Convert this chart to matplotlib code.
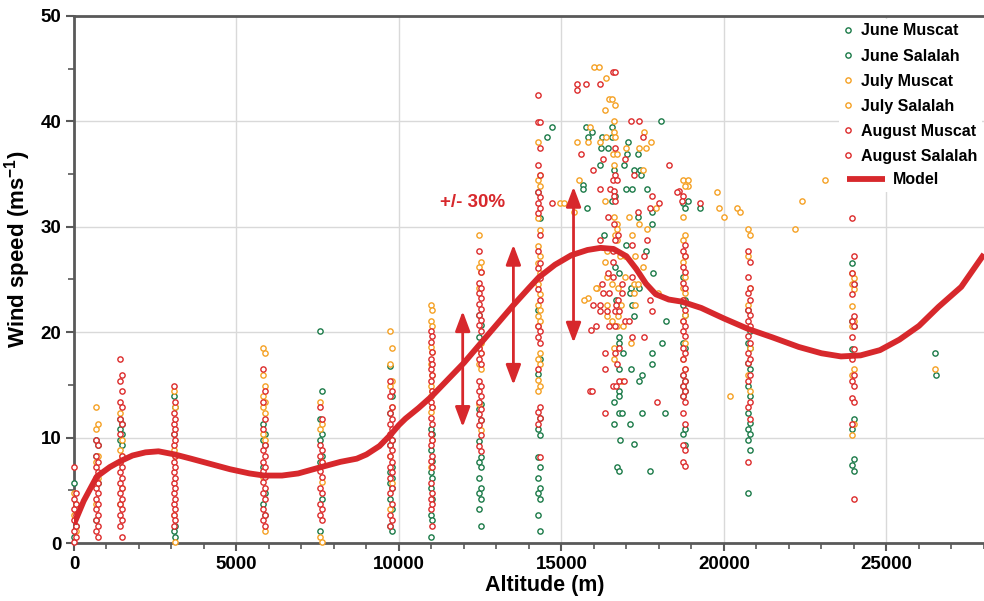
import matplotlib
matplotlib.use('Agg')
import matplotlib.pyplot as plt
from matplotlib.lines import Line2D
from matplotlib.ticker import MultipleLocator

plt.rcParams['font.family'] = ['Liberation Sans', 'DejaVu Sans']
plt.rcParams['font.weight'] = 'bold'
plt.rcParams['mathtext.fontset'] = 'custom'
plt.rcParams['mathtext.rm'] = 'Liberation Sans:bold'
plt.rcParams['mathtext.it'] = 'Liberation Sans:bold'
plt.rcParams['mathtext.bf'] = 'Liberation Sans:bold'

# sounding altitudes (m) of the standard levels at each station
muscat_alt = [0, 670, 1420, 3080, 5830, 7580, 9730, 10980, 12470, 14270, 18730, 20730, 23930, 26490]
salalah_alt = [50, 730, 1480, 3120, 5870, 7620, 9770, 11020, 12530, 14330, 18790, 20790, 23990, 26530]

# wind speed (m/s) per level, same order as the altitude lists
june_muscat = [
    [5.7, 0.6], [9.8, 8.3, 2.2], [11.8, 10.8, 9.8], [13.9, 10.3, 1.1],
    [11.3, 9.8, 7.2, 3.7], [20.1, 11.8, 9.8, 7.7, 1.1],
    [16.8, 12.3, 9.3, 6.7, 5.7, 4.2, 1.6], [10.8, 8.8, 6.7, 5.2, 2.7, 0.6],
    [21.6, 19.5, 12.7, 9.7, 7.7, 6.2, 4.7, 3.2],
    [33.3, 22.1, 16.0, 10.8, 8.2, 6.2, 4.7, 2.7],
    [32.3, 25.2, 22.6, 19.0, 15.9, 14.9, 13.9, 10.3],
    [22.1, 19.0, 17.1, 14.9, 12.3, 10.8, 9.8, 4.7],
    [26.6, 21.1, 18.4, 10.8, 7.4], [18.0]]
june_salalah = [
    [1.6], [9.3, 5.7], [11.3, 10.3, 9.3], [12.9, 1.6, 0.6],
    [10.3, 9.3, 4.7, 2.7], [14.4, 10.3, 8.3, 4.2],
    [13.9, 9.8, 7.2, 6.2, 5.2, 3.2, 1.1], [10.3, 7.8, 6.2, 4.2, 2.2],
    [20.7, 13.2, 11.7, 8.2, 7.2, 5.2, 4.2, 1.6],
    [30.8, 17.5, 11.9, 10.2, 7.2, 5.2, 4.2, 1.1],
    [31.8, 23.1, 21.6, 18.5, 15.4, 14.4, 10.8, 9.3],
    [20.1, 18.5, 16.5, 13.9, 11.4, 10.3, 8.8],
    [24.6, 20.6, 11.8, 8.0, 6.8], [15.9]]
july_muscat = [
    [4.7, 2.7], [12.9, 10.8, 7.7, 3.7], [12.3, 8.8, 7.7, 3.7], [14.4, 8.8, 2.7],
    [18.5, 15.9, 13.9, 12.9, 10.3, 6.3], [13.4, 10.8, 7.2, 0.6],
    [20.1, 17.0, 14.9, 8.3, 3.2], [22.6, 21.1, 18.6, 17.0, 14.9, 13.9, 12.4, 7.2],
    [29.2, 26.2, 24.2, 18.5, 17.0, 13.2],
    [38.0, 34.4, 30.8, 28.2, 26.6, 24.6, 22.6, 21.5, 20.6, 17.5, 15.5, 14.4],
    [34.4, 30.9, 28.7, 26.7, 24.2, 23.1, 21.1, 17.5],
    [29.8, 27.2, 22.6, 15.9],
    [25.6, 24.6, 22.5, 20.6, 15.9, 10.2], [16.5]]
july_salalah = [
    [3.7, 1.1], [11.3, 8.3, 6.2], [9.8, 8.3, 5.2], [12.9, 8.3, 0.1],
    [18.0, 14.9, 13.4, 12.3, 9.8, 1.1], [11.3, 7.7, 5.8, 0.1],
    [18.5, 15.4, 12.9, 5.7], [22.1, 20.6, 18.1, 15.9, 14.4, 12.9, 9.8],
    [26.7, 25.7, 19.0, 18.0, 16.5, 10.7],
    [34.9, 33.9, 29.7, 27.2, 25.6, 23.6, 22.1, 21.1, 18.0, 17.0, 14.9],
    [33.9, 29.2, 27.2, 25.2, 23.7, 21.6, 19.0, 16.5],
    [29.2, 24.2, 18.5, 14.4],
    [25.1, 24.1, 21.1, 16.5, 11.3], []]
august_muscat = [
    [0.1, 1.1, 2.2, 3.2, 4.2, 7.2], [9.8, 8.3, 7.2, 6.2, 5.2, 4.2, 3.2, 2.2, 1.1],
    [17.5, 15.4, 13.4, 11.8, 10.3, 7.7, 6.7, 5.7, 4.7, 3.7, 2.7, 1.6],
    [14.9, 12.3, 11.3, 10.3, 9.3, 7.7, 6.7, 5.7, 4.7, 3.7, 2.7, 1.6],
    [16.5, 13.4, 10.8, 8.8, 7.7, 6.8, 5.8, 4.7, 3.2, 2.2],
    [12.9, 9.3, 8.3, 6.8, 5.2, 3.7, 2.7],
    [15.4, 13.9, 12.3, 11.3, 10.3, 9.3, 8.3, 7.2, 6.2, 4.7, 2.7, 1.6],
    [20.1, 19.1, 17.5, 16.5, 15.4, 13.4, 11.9, 10.3, 9.3, 7.8, 5.7, 4.2, 3.2],
    [27.7, 24.7, 23.7, 22.7, 21.6, 20.7, 18.5, 17.5, 15.4, 14.4, 13.4, 12.2, 11.2, 9.2],
    [42.5, 39.9, 35.9, 33.3, 32.3, 31.3, 27.7, 26.1, 24.1, 20.6, 19.5, 16.5, 12.4, 11.3],
    [32.9, 27.7, 26.2, 24.7, 23.1, 21.1, 20.1, 18.5, 17.5, 15.9, 14.9, 13.9, 12.3, 9.3, 7.7],
    [27.7, 25.2, 23.7, 22.1, 21.1, 19.6, 18.0, 17.1, 15.4, 12.9, 7.7],
    [30.8, 25.6, 23.6, 21.1, 19.5, 17.5, 15.4, 13.8, 11.3], []]
august_salalah = [
    [0.6, 1.6, 2.7, 3.7, 4.7], [9.3, 7.7, 6.7, 5.7, 4.7, 3.7, 2.7, 1.6, 0.6],
    [15.9, 14.4, 12.9, 11.3, 8.3, 7.2, 6.2, 5.2, 4.2, 3.2, 2.2, 0.6],
    [13.4, 11.8, 10.8, 9.8, 8.3, 7.2, 6.2, 5.2, 4.2, 3.2, 2.2],
    [14.4, 11.8, 9.3, 8.3, 7.2, 6.3, 5.2, 4.2, 2.7, 1.6],
    [11.8, 8.8, 7.7, 6.3, 4.7, 3.2, 2.2],
    [14.4, 12.9, 11.8, 10.8, 9.8, 8.8, 7.7, 6.7, 5.2, 3.7, 2.2],
    [19.6, 18.1, 17.0, 15.9, 14.4, 12.9, 11.3, 9.8, 8.3, 7.2, 4.7, 3.7, 1.6],
    [25.7, 24.2, 23.2, 22.2, 21.2, 20.1, 18.0, 17.0, 14.9, 13.9, 12.7, 11.7, 10.2, 8.7],
    [39.9, 37.5, 34.9, 32.8, 31.8, 29.2, 26.6, 25.1, 23.1, 20.1, 19.0, 12.9, 11.9, 8.2],
    [28.3, 27.2, 25.7, 24.2, 22.1, 20.6, 19.6, 18.0, 16.5, 15.4, 14.4, 13.4, 11.3, 8.8, 7.3],
    [26.7, 24.2, 23.1, 21.6, 20.6, 19.0, 17.5, 15.9, 13.4, 11.8],
    [27.2, 24.6, 21.5, 20.6, 18.4, 15.9, 14.9, 13.4, 4.2], []]

# soundings between levels (tropopause region and a few others)
june_extra_alt = [14700, 14550, 15660, 15800, 18070, 15750, 16540, 15950, 15820, 16240, 16560,
                  17050, 16210, 16420, 17020, 17340, 16180, 16930, 16620, 17220, 17420, 17440,
                  15670, 17000, 17170, 17620, 16650, 18890, 16540, 17800, 17340, 17800, 16320,
                  16970, 17600, 16650, 16780, 17820, 17140, 17370, 17100, 16680, 17160, 17220,
                  18230, 16780, 16780, 18080, 16900, 17800, 16780, 17150, 17800, 17470, 17400,
                  16780, 16780, 16620, 16780, 16860, 17470, 18180, 16620, 17120, 16790, 17240,
                  16700, 16760, 17720, 19270]
june_extra_ws = [39.5, 38.5, 34.0, 31.8, 40.0, 39.5, 39.5, 39.0, 38.5, 38.5, 38.5,
                 38.0, 37.5, 37.5, 36.9, 36.9, 35.9, 35.9, 35.4, 35.4, 35.4, 34.9,
                 33.6, 33.6, 33.6, 33.6, 32.9, 32.4, 32.4, 31.4, 30.9, 30.3, 29.2,
                 28.3, 27.7, 26.2, 25.6, 25.6, 24.2, 24.2, 23.7, 23.1, 22.6, 21.5,
                 21.1, 19.5, 19.0, 19.0, 18.0, 18.0, 16.5, 16.5, 17.0, 15.9, 15.4,
                 14.4, 13.9, 13.4, 12.3, 12.3, 12.3, 12.3, 11.3, 11.3, 9.8, 9.4,
                 7.2, 6.8, 6.8, 31.8]
july_extra_alt = [14960, 15090, 15390, 15540, 15820, 16090, 16000, 16150, 16360, 16460, 16560,
                  16640, 16340, 16620, 15890, 17540, 16620, 16380, 16640, 15490, 15820, 16180,
                  17740, 17000, 17380, 17590, 16600, 16700, 16620, 17520, 18890, 18890, 17900,
                  16340, 16620, 17080, 16700, 17380, 16700, 17630, 16650, 17180, 16720, 16400,
                  16800, 16950, 17260, 16350, 17500, 16400, 16950, 16560, 17240, 17340, 16060,
                  16750, 17240, 17980, 15680, 16400, 16830, 17260, 16400, 16730, 16560, 16700,
                  16900, 17150, 16620, 16620, 16850, 19800, 19840, 20390, 20480, 19990, 20180,
                  22200, 22400, 23100]
july_extra_ws = [32.3, 32.3, 31.4, 34.4, 23.2, 24.2, 45.2, 45.2, 44.1, 42.1, 42.1,
                 41.6, 41.1, 40.0, 39.5, 39.0, 39.0, 38.5, 38.5, 38.0, 38.0, 38.0,
                 38.0, 37.5, 37.5, 37.5, 36.9, 36.9, 35.9, 35.4, 34.4, 33.9, 31.8,
                 32.4, 30.9, 30.9, 30.3, 30.3, 29.8, 29.8, 29.2, 29.2, 28.7, 27.7,
                 27.2, 27.2, 27.2, 26.7, 26.2, 25.2, 25.2, 24.6, 24.6, 24.6, 24.2,
                 24.2, 23.7, 23.7, 23.1, 22.6, 22.6, 22.6, 21.5, 21.5, 21.1, 20.6,
                 20.6, 19.0, 18.5, 17.5, 15.4, 33.3, 31.8, 31.8, 31.4, 30.9, 13.9,
                 29.8, 32.4, 34.4]
august_extra_alt = [14700, 16580, 16660, 15490, 15750, 16180, 15470, 17130, 17380, 17520, 16650,
                    15590, 16280, 16950, 15970, 16650, 17220, 18320, 16600, 16700, 16190, 16500,
                    16620, 18620, 16620, 17780, 18710, 16650, 17720, 17340, 16430, 16620, 16750,
                    16190, 16650, 17640, 17180, 16570, 17530, 16570, 16430, 16600, 17180, 16260,
                    16850, 16270, 16460, 16850, 16740, 17720, 16190, 16690, 16190, 16400, 16640,
                    16760, 17780, 16950, 17080, 16060, 16460, 16650, 17180, 17530, 16760, 16340,
                    16650, 16710, 16330, 16760, 16920, 15890, 16580, 16680, 17950, 16350, 15940,
                    15960, 15920, 18540, 18000, 19250]
august_extra_ws = [32.3, 44.7, 44.7, 43.5, 43.5, 43.5, 43.0, 40.0, 40.0, 38.5, 37.5,
                   36.9, 36.4, 36.4, 35.4, 34.9, 34.9, 35.9, 34.4, 34.4, 33.6, 33.6,
                   33.4, 33.4, 32.9, 32.9, 32.4, 32.4, 31.8, 31.4, 30.9, 30.3, 29.2,
                   28.7, 28.7, 28.7, 28.3, 27.7, 27.2, 26.7, 25.6, 25.2, 25.2, 24.6,
                   24.6, 23.7, 23.7, 23.7, 23.1, 23.1, 22.6, 22.6, 22.0, 22.0, 22.0,
                   22.0, 22.0, 21.1, 21.1, 20.6, 20.6, 20.6, 19.5, 19.5, 18.5, 18.0,
                   18.0, 17.0, 16.5, 15.4, 15.4, 14.4, 14.9, 14.9, 13.4, 12.3, 14.4,
                   22.6, 20.2, 33.3, 32.3, 32.3]

model_alt = [0, 300, 700, 1100, 1450, 1800, 2200, 2600, 3100, 3600, 4200, 4800, 5400, 5850,
             6400, 6900, 7600, 8200, 8700, 9000, 9400, 9750, 10000, 10200, 10600, 11000, 11500,
             12000, 12500, 13000, 13500, 14000, 14300, 14800, 15300, 15800, 16200, 16600,
             17000, 17300, 17600, 17900, 18300, 18700, 19300, 20000, 20750, 21500, 22300,
             23000, 23600, 24200, 24800, 25400, 26000, 26600, 27300, 28000]
model_ws = [1.8, 4.0, 6.3, 7.2, 7.8, 8.3, 8.6, 8.7, 8.4, 8.0, 7.5, 7.0, 6.6, 6.4,
            6.4, 6.6, 7.2, 7.7, 8.0, 8.4, 9.2, 10.3, 11.2, 11.8, 12.8, 13.9, 15.5,
            17.1, 18.9, 20.7, 22.5, 24.2, 25.2, 26.4, 27.3, 27.8, 28.0, 27.9,
            27.2, 26.0, 24.6, 23.6, 23.1, 22.9, 22.3, 21.3, 20.3, 19.5, 18.6,
            18.0, 17.7, 17.8, 18.3, 19.3, 20.6, 22.4, 24.3, 27.4]

# +/- 30 % bands drawn as arrows: (altitude, low, high)
band_alt = [11960, 13520, 15370]
band_low = [11.0, 15.0, 19.0]
band_high = [22.0, 28.3, 33.8]

GREEN = '#1b7a48'
ORANGE = '#f5a124'
RED = '#dc2b2b'
MODEL_RED = '#d7282c'
AXIS_GREY = '#595959'

series = [
    ('June Muscat', muscat_alt, june_muscat, GREEN, june_extra_alt, june_extra_ws),
    ('June Salalah', salalah_alt, june_salalah, GREEN, [], []),
    ('July Muscat', muscat_alt, july_muscat, ORANGE, july_extra_alt, july_extra_ws),
    ('July Salalah', salalah_alt, july_salalah, ORANGE, [], []),
    ('August Muscat', muscat_alt, august_muscat, RED, august_extra_alt, august_extra_ws),
    ('August Salalah', salalah_alt, august_salalah, RED, [], []),
]

fig = plt.figure(figsize=(9.84, 6.01), dpi=100)
ax = fig.add_axes([0.0752, 0.0965, 0.9248, 0.8769])

marker_kw = dict(marker='o', ls='none', ms=3.8, mew=1.0, mfc='white')

handles = []
for name, alts, cols, color, ex_alt, ex_ws in series:
    xs, ys = [], []
    for a, ws in zip(alts, cols):
        xs += [a] * len(ws)
        ys += ws
    xs += ex_alt
    ys += ex_ws
    ax.plot(xs, ys, color=color, mec=color, zorder=3, clip_on=False, **marker_kw)
    handles.append(Line2D([], [], color=color, mec=color, label=name, **marker_kw))

model_line, = ax.plot(model_alt, model_ws, color=MODEL_RED, lw=4.2, zorder=5, label='Model',
                      solid_capstyle='butt')

for a, lo, hi in zip(band_alt, band_low, band_high):
    ax.annotate('', xy=(a, hi), xytext=(a, lo),
                arrowprops=dict(arrowstyle='<|-|>,head_length=0.8,head_width=0.3',
                                color=MODEL_RED, lw=2, mutation_scale=15,
                                shrinkA=0, shrinkB=0), zorder=6)
ax.text(12250, 32.3, '+/- 30%', color=MODEL_RED, fontsize=13.5, fontweight='bold',
        ha='center', va='center', zorder=6)

ax.set_xlim(0, 28000)
ax.set_ylim(0, 50)
ax.xaxis.set_major_locator(MultipleLocator(5000))
ax.xaxis.set_minor_locator(MultipleLocator(1000))
ax.yaxis.set_major_locator(MultipleLocator(10))
ax.yaxis.set_minor_locator(MultipleLocator(5))
ax.grid(True, which='major', color='#d9d9d9', lw=1, zorder=0)
ax.set_axisbelow(True)

for side in ['left', 'bottom', 'top']:
    ax.spines[side].set_color(AXIS_GREY)
    ax.spines[side].set_linewidth(2)
ax.spines['right'].set_visible(False)
ax.tick_params(which='major', length=6, width=1.5, color=AXIS_GREY, labelsize=13.5, pad=3)
ax.tick_params(which='minor', length=4, width=1.2, color=AXIS_GREY)

ax.set_xlabel('Altitude (m)', fontsize=15.5, fontweight='bold')
ax.set_ylabel('Wind speed (ms$^{-1}$)', fontsize=16, fontweight='bold')
ax.xaxis.set_label_coords(0.5176, -0.080)
ax.yaxis.set_label_coords(-0.0615, 0.558)
ax.xaxis.label.set_va('center')
ax.yaxis.label.set_va('center')

leg1 = ax.legend(handles=handles, loc='upper left', bbox_to_anchor=(0.835, 1.004),
                 frameon=True, facecolor='white', edgecolor='none', framealpha=1,
                 fontsize=11.5, handlelength=0.6, handletextpad=0.5, labelspacing=0.63,
                 borderpad=0.3, borderaxespad=0.3)
leg1.set_zorder(7)
ax.add_artist(leg1)
leg2 = ax.legend(handles=[model_line], loc='upper left', bbox_to_anchor=(0.835, 0.728),
                 frameon=True, facecolor='white', edgecolor='none', framealpha=1,
                 fontsize=11.5, handlelength=2.4, handletextpad=0.5, borderpad=0.3)
leg2.set_zorder(7)

fig.savefig('out.png', dpi=100)
